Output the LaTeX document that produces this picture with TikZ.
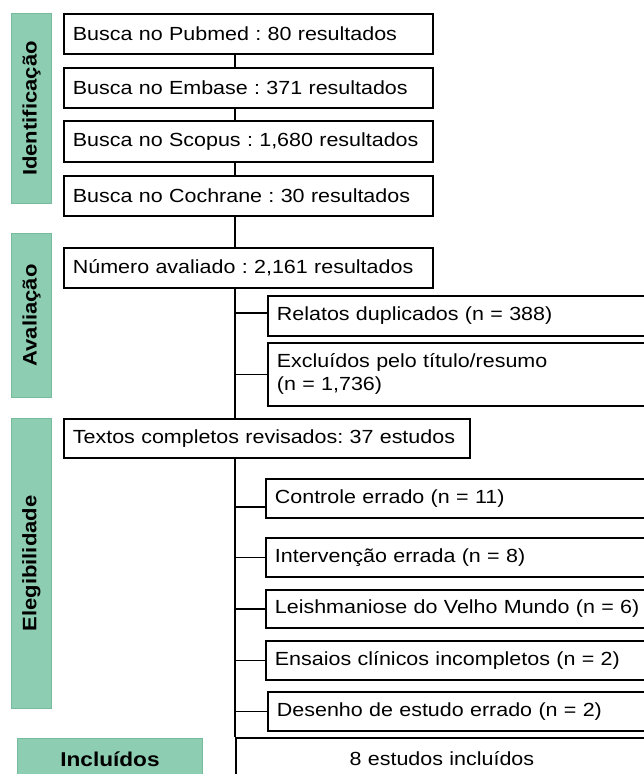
\documentclass[tikz,border=0pt]{standalone}
\usepackage{fontspec}
\setmainfont{Liberation Sans}[FakeStretch=1.13]
\definecolor{gfill}{RGB}{141,205,177}
\definecolor{gdraw}{RGB}{118,188,156}
\begin{document}
\frenchspacing
\begin{tikzpicture}[x=1pt,y=-1pt,
  box/.style={draw=black, line width=1.8pt, inner xsep=9pt, inner ysep=0pt,
    anchor=north west, align=left, font=\fontsize{19}{23}\selectfont},
  phase/.style={fill=gfill, draw=gdraw, line width=1pt, anchor=north west, inner sep=0pt},
  phaselabel/.style={font=\bfseries\fontsize{19.5}{21}\selectfont},
  link/.style={line width=1.8pt}]
\useasboundingbox (0,0) rectangle (644,774);
\coordinate (tx) at (235,0);

% phase bars
\node[phase, minimum width=40pt, minimum height=190pt] (idb) at (11,13) {};
\node[phaselabel, rotate=90] (idl) at (idb.center) {Identificação};
\node[phase, minimum width=40pt, minimum height=164pt] (avb) at (11,233) {};
\node[phaselabel, rotate=90] (avl) at (avb.center) {Avaliação};
\node[phase, minimum width=40pt, minimum height=290pt] (elb) at (11,418) {};
\node[phaselabel, rotate=90] (ell) at (elb.center) {Elegibilidade};
\node[phase, minimum width=185pt, minimum height=42pt, font=\bfseries\fontsize{20}{22}\selectfont] (inb) at (17,738) {Incluídos};

% main boxes
\node[box, text width=351pt, minimum height=40pt] (pub) at (63,13) {Busca no Pubmed : 80 resultados};
\node[box, text width=351pt, minimum height=40pt] (emb) at (63,67) {Busca no Embase : 371 resultados};
\node[box, text width=351pt, minimum height=41pt] (sco) at (63,120) {Busca no Scopus : 1,680 resultados};
\node[box, text width=351pt, minimum height=40pt] (coc) at (63,175) {Busca no Cochrane : 30 resultados};
\node[box, text width=351pt, minimum height=40pt] (num) at (63,247) {Número avaliado : 2,161 resultados};
\node[box, text width=388pt, minimum height=39pt] (tex) at (63,418) {Textos completos revisados: 37 estudos};

% side boxes
\node[box, text width=375pt, minimum height=40pt] (rel) at (267,295) {Relatos duplicados (n = 388)};
\node[box, text width=375pt, minimum height=63pt] (exc) at (267,342) {Excluídos pelo título/resumo\\(n = 1,736)};
\node[box, text width=377pt, minimum height=39pt] (ctl) at (265,478) {Controle errado (n = 11)};
\node[box, text width=377pt, minimum height=39pt] (int) at (265,537) {Intervenção errada (n = 8)};
\node[box, text width=377pt, minimum height=38pt] (lei) at (265,589) {Leishmaniose do Velho Mundo (n = 6)};
\node[box, text width=377pt, minimum height=39pt] (ens) at (265,640) {Ensaios clínicos incompletos (n = 2)};
\node[box, text width=375pt, minimum height=39pt] (des) at (267,691) {Desenho de estudo errado (n = 2)};
\node[box, text width=394pt, minimum height=42pt, align=center] (fin) at (235,737) {8 estudos incluídos};

% trunk
\draw[link] (pub.south -| tx) -- (emb.north -| tx);
\draw[link] (emb.south -| tx) -- (sco.north -| tx);
\draw[link] (sco.south -| tx) -- (coc.north -| tx);
\draw[link] (coc.south -| tx) -- (num.north -| tx);
\draw[link] (num.south -| tx) -- (tex.north -| tx);
\draw[link] (tex.south -| tx) -- (fin.north west);

% branches
\draw[link] ([yshift=3pt]tx |- rel.west) -- ([yshift=3pt]rel.west);
\draw[link] (tx |- exc.west) -- (exc.west);
\draw[link] ([yshift=-8.5pt]tx |- ctl.west) -- ([yshift=-8.5pt]ctl.west);
\draw[link] (tx |- int.west) -- (int.west);
\draw[link] (tx |- lei.west) -- (lei.west);
\draw[link] (tx |- ens.west) -- (ens.west);
\draw[link] (tx |- des.west) -- (des.west);
\end{tikzpicture}
\end{document}
